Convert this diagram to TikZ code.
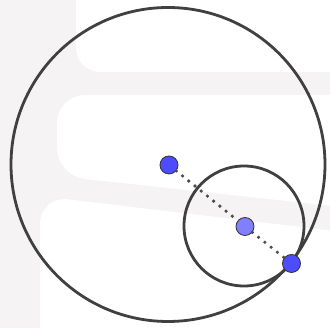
\documentclass[tikz,border=0pt]{standalone}
\usetikzlibrary{positioning}
\definecolor{wmgray}{HTML}{F5F3F3}
\definecolor{ptblue}{HTML}{4D4DFF}
\definecolor{ptlight}{HTML}{7F7FFF}
\definecolor{rimgray}{HTML}{404040}
\begin{document}
\begin{tikzpicture}[x=1pt, y=-1pt,
pt/.style={draw=black!80, circle, line width=0.8pt, inner sep=0pt, minimum size=18pt, fill=ptblue},
rim/.style={draw=rimgray, circle, line width=2.8pt, inner sep=0pt},
tie/.style={line width=3.6pt, black!70, line cap=round, dash pattern=on 0pt off 8pt}
]
\useasboundingbox (0,0) rectangle (330,328);
% faint watermark behind the figure
\fill[wmgray] (0,0) rectangle (330,328);
\fill[white, rounded corners=24pt] (76,-30) rectangle (360,72);
\fill[white, rounded corners=28pt] (57,95) -- (360,95) -- (360,209) -- (57,176) -- cycle;
\fill[white, rounded corners=28pt] (40,196) -- (360,234) -- (360,360) -- (40,360) -- cycle;

\node[rim, minimum size=314pt] (big) at (168,164.5){};
\node[rim, minimum size=120pt] (small) at (244,226){};

\node[pt] (O) at (169,165){};
\node[pt, fill=ptlight] (M) at (245,226.5){};
\node[pt] (T) at (291.5,263.5){};
\foreach \i/\j in {O/M,M/T}{\draw[tie] (\i) -- (\j);}
\end{tikzpicture}
\end{document}
